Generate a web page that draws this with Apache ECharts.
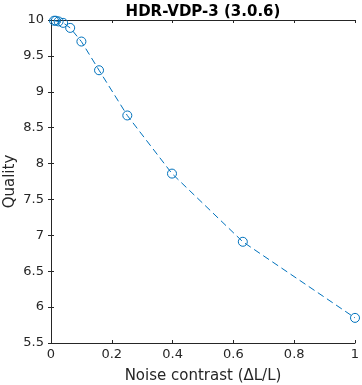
<!DOCTYPE html>
<html><head><meta charset="utf-8">
<script src="https://cdn.jsdelivr.net/npm/echarts@6/dist/echarts.min.js"></script>
<style>html,body{margin:0;padding:0;background:#fff}#c{width:362px;height:385px}</style>
</head><body><div id="c"></div>
<script>
const noiseContrast = [0.01, 0.0158, 0.0251, 0.0398, 0.0631, 0.1, 0.158, 0.251, 0.398, 0.631, 1];
const quality = [9.99, 9.99, 9.98, 9.96, 9.89, 9.70, 9.30, 8.67, 7.86, 6.91, 5.85];
const xTicks = [0, 0.2, 0.4, 0.6, 0.8, 1];
const yTicks = [5.5, 6, 6.5, 7, 7.5, 8, 8.5, 9, 9.5, 10];
const titleText = 'HDR-VDP-3 (3.0.6)';
const xLabel = 'Noise contrast (\u0394L/L)';
const yLabel = 'Quality';

const font = 'DejaVu Sans';
const axisColor = '#262626';
const lineColor = '#0072BD';
const chart = echarts.init(document.getElementById('c'), null, {renderer: 'canvas'});
const axLine = {show: true, lineStyle: {color: axisColor, width: 1}};
const tick = {show: true, inside: true, length: 3, lineStyle: {color: axisColor, width: 1}};
chart.setOption({
  animation: false,
  backgroundColor: '#fff',
  title: {text: titleText, left: 198, top: 0, textAlign: 'center',
    textStyle: {fontFamily: font, fontSize: 15, fontWeight: 'bold', color: '#000'}},
  grid: {left: 51, right: 7, top: 20, bottom: 42, containLabel: false, outerBoundsMode: 'none'},
  xAxis: [{
    type: 'value', min: xTicks[0], max: xTicks[xTicks.length - 1], interval: 0.2,
    name: xLabel, nameLocation: 'middle', nameGap: 26, nameMoveOverlap: false,
    nameTextStyle: {fontFamily: font, fontSize: 15, color: axisColor},
    axisLine: axLine, axisTick: tick, splitLine: {show: false},
    axisLabel: {fontFamily: font, fontSize: 13, color: axisColor, margin: 5,
      formatter: v => String(Math.round(v * 10) / 10)}
  }, {
    type: 'value', position: 'top', min: 0, max: 1, interval: 0.2,
    axisLine: axLine, axisTick: tick, axisLabel: {show: false}, splitLine: {show: false}
  }],
  yAxis: [{
    type: 'value', min: yTicks[0], max: yTicks[yTicks.length - 1], interval: 0.5,
    name: yLabel, nameLocation: 'middle', nameGap: 33, nameRotate: 90, nameMoveOverlap: false,
    nameTextStyle: {fontFamily: font, fontSize: 15, color: axisColor},
    axisLine: axLine, axisTick: tick, splitLine: {show: false},
    axisLabel: {fontFamily: font, fontSize: 13, color: axisColor, margin: 7,
      formatter: v => String(v)}
  }, {
    type: 'value', position: 'right', min: 5.5, max: 10, interval: 0.5,
    axisLine: axLine, axisTick: tick, axisLabel: {show: false}, splitLine: {show: false}
  }],
  series: [{
    type: 'line',
    data: noiseContrast.map((x, i) => [x, quality[i]]),
    symbol: 'circle', symbolSize: 9, showSymbol: true,
    lineStyle: {color: lineColor, width: 1, type: [7, 4]},
    itemStyle: {color: 'rgba(0,0,0,0)', borderColor: lineColor, borderWidth: 1},
    clip: false
  }]
});
</script></body></html>
